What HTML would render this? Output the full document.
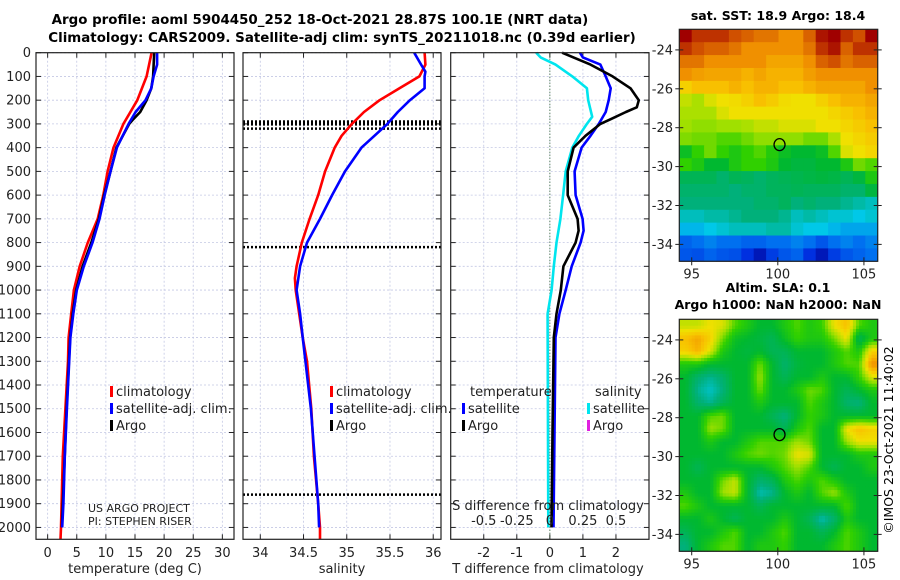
<!DOCTYPE html>
<html><head><meta charset="utf-8"><style>
html,body{margin:0;padding:0;background:#fff;}
svg{display:block;font-family:"DejaVu Sans","Liberation Sans",sans-serif;}
</style></head><body>
<svg id="c" width="900" height="580" viewBox="0 0 900 580" xmlns="http://www.w3.org/2000/svg">
<text x="320" y="24" font-size="13.4" font-weight="bold" text-anchor="middle">Argo profile: aoml 5904450_252 18-Oct-2021 28.87S 100.1E (NRT data)</text>
<text x="342" y="42" font-size="13.4" font-weight="bold" text-anchor="middle">Climatology: CARS2009. Satellite-adj clim: synTS_20211018.nc (0.39d earlier)</text>
<text x="778" y="20" font-size="12.5" font-weight="bold" text-anchor="middle">sat. SST: 18.9 Argo: 18.4</text>
<text x="778" y="292" font-size="12.5" font-weight="bold" text-anchor="middle">Altim. SLA: 0.1</text>
<text x="778" y="309" font-size="12.5" font-weight="bold" text-anchor="middle">Argo h1000: NaN h2000: NaN</text>
<text transform="translate(893,440) rotate(-90)" font-size="12.5" text-anchor="middle">©IMOS 23-Oct-2021 11:40:02</text>
<g id="g"></g>
</svg>
<script>
// ---- data ----
const depthTicks=[0,100,200,300,400,500,600,700,800,900,1000,1100,1200,1300,1400,1500,1600,1700,1800,1900,2000];
const tempTicks=[0,5,10,15,20,25,30];
const salTicks=[34,34.5,35,35.5,36];
const salTickLabels=["34","34.5","35","35.5","36"];
const tdiffTicks=[-2,-1,0,1,2];
const sdiffTicks=[-0.5,-0.25,0,0.25,0.5];
const sdiffTickLabels=["-0.5","-0.25","0","0.25","0.5"];

const climTDepth=[0,100,200,300,400,500,600,700,800,900,1000,1100,1200,1300,1500,1700,1900,2000,2050];
const climT=[17.85,17.0,15.4,13.0,11.3,10.3,9.55,8.6,6.9,5.5,4.5,4.05,3.6,3.5,3.05,2.6,2.4,2.3,2.2];
const satTDepth=[0,50,100,150,200,250,300,400,500,600,700,800,900,1000,1100,1200,1300,1500,1700,1900,2000];
const satT=[18.8,18.8,18.2,17.8,16.8,15.1,13.9,11.9,10.8,9.8,8.9,7.7,6.2,5.0,4.4,3.9,3.7,3.3,2.95,2.7,2.5];
const argoTDepth=[0,100,150,200,250,280,300,400,500,600,700,800,900,1000,1100,1200,1500,2000];
const argoT=[18.3,18.1,17.8,17.0,15.9,14.7,14.0,11.8,10.8,9.7,8.8,7.5,6.0,4.9,4.3,3.85,3.25,2.45];

const climSDepth=[0,50,100,150,200,250,300,350,400,500,600,700,800,900,950,1000,1100,1200,1300,1500,1700,1900,2000,2050];
const climS=[35.9,35.91,35.84,35.61,35.38,35.2,35.06,34.94,34.86,34.75,34.67,34.57,34.48,34.42,34.4,34.41,34.45,34.49,34.54,34.59,34.62,34.67,34.69,34.69];
const satSDepth=[0,50,80,100,150,200,250,300,350,400,500,600,700,800,900,1000,1100,1200,1500,1900,2000];
const satS=[35.78,35.86,35.91,35.9,35.9,35.73,35.59,35.47,35.32,35.17,34.98,34.83,34.69,34.54,34.46,34.42,34.46,34.49,34.585,34.67,34.68];
const mldDepths=[290,296,302,320,819,1862];

const sdiffDepth=[0,20,50,100,150,200,270,300,350,400,500,600,700,800,900,1000,1100,1500,2000];
const satSdiff=[-0.103,-0.07,0.043,0.17,0.28,0.29,0.32,0.28,0.22,0.17,0.12,0.10,0.08,0.05,0.03,0.013,-0.017,-0.015,-0.012];
const tdiffDepth=[0,20,50,100,150,200,250,300,350,400,500,600,700,750,800,900,1000,1100,1200,1600,2000];
const satTdiff=[0.91,1.0,1.53,1.69,1.84,1.78,1.69,1.48,1.23,0.96,0.75,0.78,0.99,1.02,0.93,0.66,0.48,0.29,0.17,0.14,0.11];
const argoTdiffDepth=[0,50,100,150,200,230,250,280,300,350,400,500,600,700,750,800,900,1000,1100,1200,1600,2000];
const argoTdiff=[0.37,1.23,1.9,2.44,2.69,2.63,2.3,1.84,1.53,1.08,0.72,0.54,0.54,0.84,0.87,0.78,0.41,0.33,0.2,0.12,0.08,0.05];

const sstGrid=[
[1,.95,.95,.95,.92,.9,.88,.88,.85,.85,.9,.98,1,.95,.92,1],
[.95,.92,.9,.9,.88,.85,.85,.85,.85,.85,.88,.95,.98,.9,.95,.95],
[.88,.88,.85,.85,.85,.85,.85,.82,.82,.82,.85,.9,.92,.88,.9,.9],
[.85,.83,.82,.82,.82,.8,.82,.8,.8,.8,.83,.85,.85,.85,.85,.85],
[.75,.78,.78,.78,.8,.78,.8,.8,.78,.78,.8,.82,.82,.82,.82,.85],
[.68,.66,.7,.72,.73,.75,.78,.76,.73,.72,.72,.75,.78,.8,.8,.82],
[.66,.66,.66,.7,.72,.72,.72,.72,.72,.72,.72,.72,.74,.76,.78,.8],
[.65,.64,.64,.65,.65,.66,.68,.68,.7,.7,.7,.72,.72,.74,.76,.78],
[.63,.62,.62,.6,.6,.62,.64,.64,.64,.64,.62,.62,.66,.72,.74,.76],
[.52,.58,.62,.58,.55,.58,.6,.56,.52,.5,.5,.52,.6,.7,.72,.74],
[.58,.55,.5,.5,.55,.58,.58,.55,.5,.48,.48,.5,.5,.55,.62,.6],
[.45,.45,.45,.42,.45,.44,.42,.44,.45,.46,.47,.48,.47,.45,.48,.55],
[.42,.42,.42,.42,.4,.42,.42,.44,.44,.45,.44,.44,.44,.42,.42,.48],
[.4,.4,.4,.4,.4,.4,.42,.42,.44,.4,.42,.4,.4,.38,.36,.34],
[.34,.34,.36,.36,.38,.4,.4,.4,.38,.34,.36,.34,.32,.32,.3,.32],
[.28,.28,.3,.32,.34,.34,.34,.36,.36,.32,.3,.3,.28,.26,.26,.26],
[.18,.2,.22,.2,.2,.18,.18,.2,.2,.22,.2,.16,.2,.22,.2,.22],
[.16,.15,.18,.16,.15,.1,.05,.12,.16,.18,.1,.05,.12,.16,.18,.2]];
const slaGrid=[
[.68,.68,.72,.7,.6,.55,.5,.5,.55,.6,.55,.58,.72,.78,.6,.55],
[.78,.82,.75,.62,.52,.5,.48,.45,.52,.58,.55,.55,.62,.72,.45,.55],
[.75,.8,.7,.55,.5,.48,.5,.45,.45,.5,.5,.5,.55,.6,.55,.75],
[.55,.55,.5,.5,.5,.5,.62,.5,.42,.48,.5,.5,.55,.6,.6,.85],
[.5,.42,.38,.42,.5,.5,.65,.5,.45,.5,.5,.55,.5,.5,.58,.7],
[.5,.38,.33,.4,.5,.5,.62,.5,.5,.55,.62,.6,.5,.45,.5,.55],
[.5,.42,.38,.45,.5,.5,.55,.5,.5,.5,.6,.55,.5,.42,.4,.5],
[.5,.5,.6,.62,.5,.5,.5,.45,.4,.5,.58,.55,.5,.5,.5,.5],
[.5,.5,.65,.62,.5,.5,.5,.5,.45,.55,.6,.5,.5,.72,.78,.75],
[.5,.5,.55,.5,.5,.55,.6,.6,.6,.65,.62,.5,.5,.65,.72,.72],
[.5,.5,.5,.5,.55,.6,.62,.6,.62,.72,.7,.5,.5,.5,.55,.55],
[.5,.45,.5,.5,.5,.5,.5,.55,.6,.65,.6,.5,.45,.5,.5,.55],
[.5,.5,.5,.62,.68,.5,.42,.45,.55,.6,.55,.6,.55,.5,.5,.5],
[.55,.5,.5,.65,.68,.5,.35,.38,.5,.55,.5,.6,.65,.55,.5,.5],
[.6,.55,.5,.5,.5,.5,.45,.5,.5,.5,.5,.5,.5,.6,.5,.5],
[.5,.5,.55,.5,.45,.5,.5,.5,.55,.5,.45,.35,.42,.55,.5,.5],
[.45,.5,.5,.55,.6,.5,.5,.55,.6,.5,.5,.45,.5,.6,.55,.5],
[.4,.5,.55,.6,.6,.5,.55,.55,.58,.5,.5,.5,.55,.6,.55,.5]];
const lonTicks=[95,100,105];
const latTicks=[-24,-26,-28,-30,-32,-34];
const argoLon=100.1, argoLat=-28.87;

// ---- drawing ----
const NS="http://www.w3.org/2000/svg";
const G=document.getElementById('g');
function mk(tag,attrs,parent){const e=document.createElementNS(NS,tag);for(const k in attrs)e.setAttribute(k,attrs[k]);(parent||G).appendChild(e);return e;}
const plotTop=52.7,plotBot=539.3;
const yD=d=>plotTop+(d/2050)*(plotBot-plotTop);
function lin(d0,d1,r0,r1){return v=>r0+(v-d0)/(d1-d0)*(r1-r0);}
const P=[{x0:36,x1:234,sx:lin(-2,32,36,234)},{x0:243,x1:441,sx:lin(33.8,36.09,243,441)},{x0:450.7,x1:649,sx:lin(-3,3,450.7,649)}];
const sS=lin(-0.75,0.75,450.7,649);

function frame(p,vt,name){
  const grp=mk('g',{});
  
  
  depthTicks.forEach(d=>{
    const l=mk('line',{x1:p.x0,x2:p.x1,y1:yD(d),y2:yD(d),stroke:'#c4c8e4','stroke-width':0.8,'stroke-dasharray':'2,2'},grp);
    
    const t1=mk('line',{x1:p.x0,x2:p.x0+5,y1:yD(d),y2:yD(d),stroke:'#222'},grp);
    
    const t2=mk('line',{x1:p.x1-5,x2:p.x1,y1:yD(d),y2:yD(d),stroke:'#222'},grp);
    
  });
  vt.forEach(v=>{
    const x=p.sx(v);
    const l=mk('line',{x1:x,x2:x,y1:plotTop,y2:plotBot,stroke:'#c4c8e4','stroke-width':0.8,'stroke-dasharray':'2,2'},grp);
    
    const t=mk('line',{x1:x,x2:x,y1:plotTop,y2:plotTop+5,stroke:'#222'},grp);
    
    const t2=mk('line',{x1:x,x2:x,y1:plotBot-5,y2:plotBot,stroke:'#222'},grp);
    
  });
  return grp;
}
function border(p){const r=mk('rect',{x:p.x0,y:plotTop,width:p.x1-p.x0,height:plotBot-plotTop,fill:'none',stroke:'#222','stroke-width':1.2});
  }
function line(ds,vs,sx,color,name,w){
  const pts=ds.map((d,i)=>sx(vs[i]).toFixed(1)+','+yD(d).toFixed(1)).join(' ');
  const e=mk('polyline',{points:pts,fill:'none',stroke:color,'stroke-width':w||2.6,'stroke-linejoin':'round'});
  
}
function txt(x,y,s,o){const e=mk('text',Object.assign({x:x,y:y,'font-size':12.5,fill:'#222'},o||{}));e.textContent=s;return e;}

// panel 1
frame(P[0],tempTicks,'temperature-panel');
line(climTDepth,climT,P[0].sx,'#f00','temp-climatology-line');
line(argoTDepth,argoT,P[0].sx,'#000','temp-argo-line');
line(satTDepth,satT,P[0].sx,'#00f','temp-satellite-line');
border(P[0]);
depthTicks.forEach(d=>{const e=txt(31,yD(d)+4.5,String(d),{'text-anchor':'end','font-size':13});
  });
tempTicks.forEach(v=>{const e=txt(P[0].sx(v),557,String(v),{'text-anchor':'middle','font-size':13});
  });
let e=txt(135,573,'temperature (deg C)',{'text-anchor':'middle','font-size':13});
e=txt(88,512,'US ARGO PROJECT',{'font-size':11});
e=txt(88,525,'PI: STEPHEN RISER',{'font-size':11});

function legend(x,y,items,name){
  items.forEach((it,i)=>{
    const r=mk('rect',{x:x,y:y+i*17-10,width:3,height:11,fill:it[1]});
    
    const t=txt(x+6,y+i*17,it[0],{'font-size':13});
    
  });
}
legend(110,396,[['climatology','#f00'],['satellite-adj. clim.','#00f'],['Argo','#000']],'temp-legend');

// panel 2
frame(P[1],salTicks,'salinity-panel');
mldDepths.forEach(d=>{const l=mk('line',{x1:P[1].x0,x2:P[1].x1,y1:yD(d),y2:yD(d),stroke:'#000','stroke-width':2.5,'stroke-dasharray':'2,2'});
  });
line(climSDepth,climS,P[1].sx,'#f00','sal-climatology-line');
line(satSDepth,satS,P[1].sx,'#00f','sal-satellite-line');
border(P[1]);
salTicks.forEach((v,i)=>{const e=txt(P[1].sx(v),557,salTickLabels[i],{'text-anchor':'middle','font-size':13});
  });
e=txt(342,573,'salinity',{'text-anchor':'middle','font-size':13});
legend(330,396,[['climatology','#f00'],['satellite-adj. clim.','#00f'],['Argo','#000']],'sal-legend');

// panel 3
frame(P[2],tdiffTicks,'difference-panel');
const z=P[2].sx(0);
const zl=mk('line',{x1:z,x2:z,y1:plotTop,y2:plotBot,stroke:'#363',"stroke-width":1,'stroke-dasharray':'1,2'});

line(sdiffDepth,satSdiff,sS,'#00e5ee','sal-diff-satellite-line');
line(tdiffDepth,satTdiff,P[2].sx,'#00f','temp-diff-satellite-line');
line(argoTdiffDepth,argoTdiff,P[2].sx,'#000','temp-diff-argo-line');
border(P[2]);
tdiffTicks.forEach(v=>{const e=txt(P[2].sx(v),557,String(v),{'text-anchor':'middle','font-size':13});
  });
sdiffTicks.forEach((v,i)=>{const e=txt(sS(v),525,sdiffTickLabels[i],{'text-anchor':'middle','font-size':13});
  });
e=txt(548,510,'S difference from climatology',{'text-anchor':'middle','font-size':13});
e=txt(548,573,'T difference from climatology',{'text-anchor':'middle','font-size':13});
e=txt(470,396,'temperature',{'font-size':13});
e=txt(595,396,'salinity',{'font-size':13});
legend(462,413,[['satellite','#00f'],['Argo','#000']],'diff-legend-temp');
legend(587,413,[['satellite','#00e5ee'],['Argo','#e020e0']],'diff-legend-sal');

// maps
const stops=[[0,'#000090'],[.1,'#0030e0'],[.2,'#0070f0'],[.3,'#00c8e8'],[.4,'#00b07a'],[.5,'#00b830'],[.58,'#30d000'],[.65,'#a0e000'],[.72,'#f0e000'],[.78,'#f8c000'],[.85,'#f09000'],[.92,'#d05000'],[1,'#a00000']];
function hex(h){return [1,3,5].map(i=>parseInt(h.substr(i,2),16));}
function cmap(v){v=Math.max(0,Math.min(1,v));for(let i=1;i<stops.length;i++){if(v<=stops[i][0]){const a=stops[i-1],b=stops[i],t=(v-a[0])/(b[0]-a[0]);const ca=hex(a[1]),cb=hex(b[1]);return 'rgb('+ca.map((c,k)=>Math.round(c+(cb[k]-c)*t)).join(',')+')';}}return stops[stops.length-1][1];}
function sample(grid,fr,fc){
  const R=grid.length,C=grid[0].length;
  const r=Math.max(0,Math.min(R-1,fr)),c=Math.max(0,Math.min(C-1,fc));
  const r0=Math.floor(r),c0=Math.floor(c),r1=Math.min(R-1,r0+1),c1=Math.min(C-1,c0+1),tr=r-r0,tc=c-c0;
  return grid[r0][c0]*(1-tr)*(1-tc)+grid[r0][c1]*(1-tr)*tc+grid[r1][c0]*tr*(1-tc)+grid[r1][c1]*tr*tc;
}
function map(grid,y0,name,sub){
  const x0=679.3,x1=877.7,y1=y0+232;
  const sx=lin(94.28,105.8,x0,x1), sy=lin(-22.94,-34.87,y0,y1);
  const grp=mk('g',{});
  const R=grid.length*sub,C=grid[0].length*sub,cw=(x1-x0)/C,ch=(y1-y0)/R;
  for(let r=0;r<R;r++)for(let c=0;c<C;c++){
    const v=sub===1?grid[r][c]:sample(grid,(r+0.5)/sub-0.5,(c+0.5)/sub-0.5);
    const q=mk('rect',{x:(x0+c*cw).toFixed(2),y:(y0+r*ch).toFixed(2),width:(cw+0.4).toFixed(2),height:(ch+0.4).toFixed(2),fill:cmap(v)},grp);
    
    
  }
  const b=mk('rect',{x:x0,y:y0,width:x1-x0,height:y1-y0,fill:'none',stroke:'#222','stroke-width':1.2},grp);
  
  latTicks.forEach(v=>{const y=sy(v);
    [[x0,x0+4],[x1-4,x1],[x0-4,x0],[x1,x1+4]].forEach(a=>{const t=mk('line',{x1:a[0],x2:a[1],y1:y,y2:y,stroke:'#222'},grp);});
    const l=txt(673,y+4.5,String(v),{'text-anchor':'end','font-size':13});});
  lonTicks.forEach(v=>{const x=sx(v);
    [[y1-4,y1],[y1,y1+4]].forEach(a=>{const t=mk('line',{x1:x,x2:x,y1:a[0],y2:a[1],stroke:'#222'},grp);});
    const l=txt(x,y1+17,String(v),{'text-anchor':'middle','font-size':13});});
  const m=mk('ellipse',{cx:sx(argoLon),cy:sy(argoLat),rx:5.5,ry:6,fill:'none',stroke:'#000','stroke-width':1.3},grp);
  
}
map(sstGrid,29.3,'sst-map',1);
map(slaGrid,319.3,'sla-map',4);
</script>
</body></html>
